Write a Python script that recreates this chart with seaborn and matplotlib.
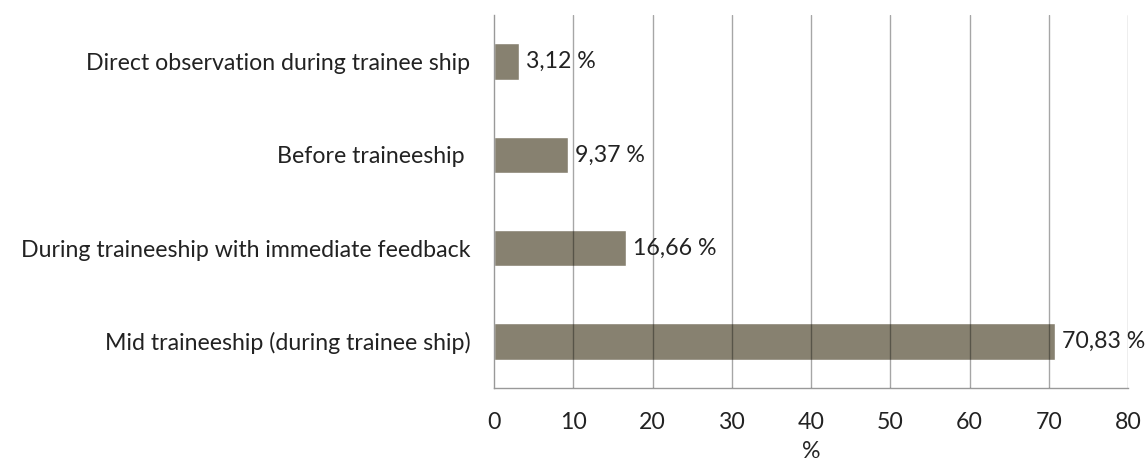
import matplotlib
matplotlib.use('Agg')
import matplotlib.pyplot as plt
import seaborn as sns
import pandas as pd

categories = [
    "Direct observation during trainee ship",
    "Before traineeship ",
    "During traineeship with immediate feedback",
    "Mid traineeship (during trainee ship)",
]
values = [3.12, 9.37, 16.66, 70.83]
value_labels = ["3,12 %", "9,37 %", "16,66 %", "70,83 %"]
xticks = [0, 10, 20, 30, 40, 50, 60, 70, 80]

df = pd.DataFrame({"method": categories, "pct": values})

sns.set_style("white")
plt.rcParams['font.family'] = ['Lato', 'DejaVu Sans']

FS = 16.7

fig = plt.figure(figsize=(11.46, 4.61), dpi=100)
ax = fig.add_axes([0.4311, 0.1584, 0.9843 - 0.4311, 0.9675 - 0.1584])

sns.barplot(data=df, x="pct", y="method", orient="h", color="#878170",
            saturation=1, width=0.39, ax=ax, zorder=1)

# vertical gridlines drawn above bars like in the original
for t in xticks[1:]:
    ax.axvline(t, color="black", alpha=0.35, lw=1, zorder=3)

for i, (v, lab) in enumerate(zip(values, value_labels)):
    ax.text(v + 0.9, i, lab, va="center", ha="left", fontsize=FS,
            color="#222222", zorder=4, clip_on=False)

ax.set_xlim(0, 80)
ax.set_xticks(xticks)
ax.set_xticklabels([str(t) for t in xticks])
ax.set_xlabel("%", fontsize=FS, labelpad=6)
ax.set_ylabel("")
ax.tick_params(axis="x", length=0, pad=17, labelsize=FS, colors="#222222")
ax.tick_params(axis="y", length=0, pad=17, labelsize=FS, colors="#222222")

for side in ["top", "right"]:
    ax.spines[side].set_visible(False)
for side in ["left", "bottom"]:
    ax.spines[side].set_color("#999999")
    ax.spines[side].set_linewidth(1)

fig.savefig("out.png", dpi=100)
